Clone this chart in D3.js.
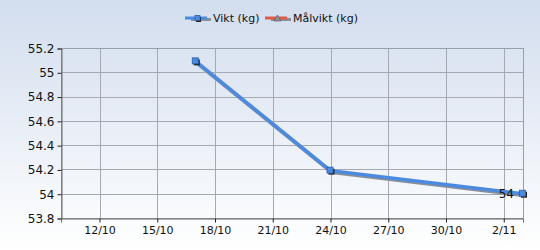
<!DOCTYPE html>
<head>
  <style>
    body { margin: 0; }
    text { font-family: "DejaVu Sans", sans-serif; fill: #111; }
    .tick text { font-size: 11px; }
    .legend text { font-size: 11px; }
  </style>
  <title>Vikt</title>
</head>
<body>
  <script src="https://cdn.jsdelivr.net/npm/d3@7"></script>
  <script>
    // data
    var dates = ["2023-10-17", "2023-10-24", "2023-11-03"];
    var vikt = [55.09, 54.19, 54.0];
    var malvikt = [];   // listed in the legend, no points drawn
    var yTicks = [53.8, 54, 54.2, 54.4, 54.6, 54.8, 55, 55.2];
    var xTickDates = ["2023-10-12", "2023-10-15", "2023-10-18", "2023-10-21",
                      "2023-10-24", "2023-10-27", "2023-10-30", "2023-11-02"];

    var width = 540, height = 250;
    var plotLeft = 61, plotRight = 523, plotTop = 48, plotBottom = 218;
    var parse = d3.timeParse("%Y-%m-%d");

    var x = d3.scaleTime()
      .domain([parse("2023-10-10"), parse("2023-11-03")])
      .range([plotLeft, plotRight]);
    var y = d3.scaleLinear()
      .domain([53.8, 55.2])
      .range([plotBottom, plotTop]);

    var svg = d3.select("body").append("svg")
      .attr("width", width)
      .attr("height", height);

    var defs = svg.append("defs");
    var grad = defs.append("linearGradient")
      .attr("id", "bg").attr("x1", 0).attr("y1", 0).attr("x2", 0).attr("y2", 1);
    grad.append("stop").attr("offset", "0%").attr("stop-color", "#d2ddee");
    grad.append("stop").attr("offset", "100%").attr("stop-color", "#ffffff");

    svg.append("rect")
      .attr("width", width).attr("height", height)
      .attr("fill", "url(#bg)");

    // grid
    var grid = svg.append("g").attr("class", "grid");
    grid.selectAll("line.h")
      .data(yTicks)
      .enter().append("line")
      .attr("x1", plotLeft).attr("x2", plotRight)
      .attr("y1", function(d) { return Math.round(y(d)) + 0.5; })
      .attr("y2", function(d) { return Math.round(y(d)) + 0.5; })
      .attr("stroke", "#a4a9b2");
    grid.selectAll("line.v")
      .data(xTickDates)
      .enter().append("line")
      .attr("x1", function(d) { return Math.round(x(parse(d))) + 0.5; })
      .attr("x2", function(d) { return Math.round(x(parse(d))) + 0.5; })
      .attr("y1", plotTop).attr("y2", plotBottom)
      .attr("stroke", "#a4a9b2");

    svg.append("rect")
      .attr("x", plotLeft + 0.5).attr("y", plotTop + 0.5)
      .attr("width", plotRight - plotLeft).attr("height", plotBottom - plotTop)
      .attr("fill", "none").attr("stroke", "#9a9ea6");

    // axes
    var yAxis = svg.append("g")
      .attr("transform", "translate(" + (plotLeft + 0.5) + ",0.5)")
      .call(d3.axisLeft(y).tickValues(yTicks).tickSize(4).tickPadding(3)
        .tickFormat(function(d) { return d3.format("~g")(d); }));
    yAxis.select(".domain").attr("stroke", "#666");
    yAxis.selectAll(".tick line").attr("stroke", "#222");
    yAxis.selectAll(".tick text").style("font-size", "12px");

    var xAxis = svg.append("g")
      .attr("transform", "translate(0," + (plotBottom + 0.5) + ")")
      .call(d3.axisBottom(x)
        .tickValues(xTickDates.map(parse))
        .tickSize(4).tickPadding(4)
        .tickFormat(function(d) { return d.getDate() + "/" + (d.getMonth() + 1); }));
    xAxis.select(".domain").attr("stroke", "#666");
    xAxis.selectAll(".tick line").attr("stroke", "#222");

    var pts = dates.map(function(d, i) { return { date: parse(d), value: vikt[i] }; });
    var line = d3.line()
      .x(function(d) { return x(d.date); })
      .y(function(d) { return y(d.value); });

    // shadow
    svg.append("path")
      .datum(pts)
      .attr("d", line)
      .attr("transform", "translate(1,2)")
      .attr("fill", "none")
      .attr("stroke", "#8a8f98")
      .attr("stroke-width", 3);
    svg.append("path")
      .datum(pts)
      .attr("d", line)
      .attr("fill", "none")
      .attr("stroke", "#4a8ae0")
      .attr("stroke-width", 3.5);

    // markers
    svg.selectAll("rect.sh")
      .data(pts).enter().append("rect")
      .attr("x", function(d) { return x(d.date) - 2; })
      .attr("y", function(d) { return y(d.value) - 2; })
      .attr("width", 6).attr("height", 6)
      .attr("fill", "#222");
    svg.selectAll("rect.mk")
      .data(pts).enter().append("rect")
      .attr("x", function(d) { return x(d.date) - 3.5; })
      .attr("y", function(d) { return y(d.value) - 3.5; })
      .attr("width", 6).attr("height", 6)
      .attr("fill", "#4a8ae0")
      .attr("stroke", "#2a5fa8").attr("stroke-width", 0.8);

    // value label for last point
    var last = pts[pts.length - 1];
    svg.append("text")
      .attr("x", x(last.date) - 9)
      .attr("y", y(last.value) + 4)
      .attr("text-anchor", "end")
      .style("font-size", "12px")
      .text(d3.format("~g")(last.value));

    // legend
    var legend = svg.append("g").attr("class", "legend");
    var items = [
      { name: "Vikt (kg)", color: "#4a8ae0", x: 185, marker: "square" },
      { name: "Målvikt (kg)", color: "#e05a4a", x: 265, marker: "tri" }
    ];
    items.forEach(function(it) {
      var g = legend.append("g").attr("transform", "translate(" + it.x + ",18)");
      g.append("line").attr("x1", 6).attr("x2", 26).attr("y1", 1.5).attr("y2", 1.5)
        .attr("stroke", "#8a8f98").attr("stroke-width", 3);
      g.append("line").attr("x1", 0).attr("x2", 22).attr("y1", 0).attr("y2", 0)
        .attr("stroke", it.color).attr("stroke-width", 3);
      if (it.marker === "square") {
        g.append("rect").attr("x", 11).attr("y", -1).attr("width", 5).attr("height", 5).attr("fill", "#222");
        g.append("rect").attr("x", 10).attr("y", -2.5).attr("width", 5).attr("height", 5)
          .attr("fill", it.color).attr("stroke", "#2a5fa8").attr("stroke-width", 0.8);
      } else {
        g.append("path").attr("d", "M9,3 L12.5,-3 L16,3 Z")
          .attr("fill", "#8a8f98").attr("stroke", "#555").attr("stroke-width", 0.6);
      }
      g.append("text").attr("x", 28).attr("y", 4).text(it.name);
    });
  </script>
</body>
